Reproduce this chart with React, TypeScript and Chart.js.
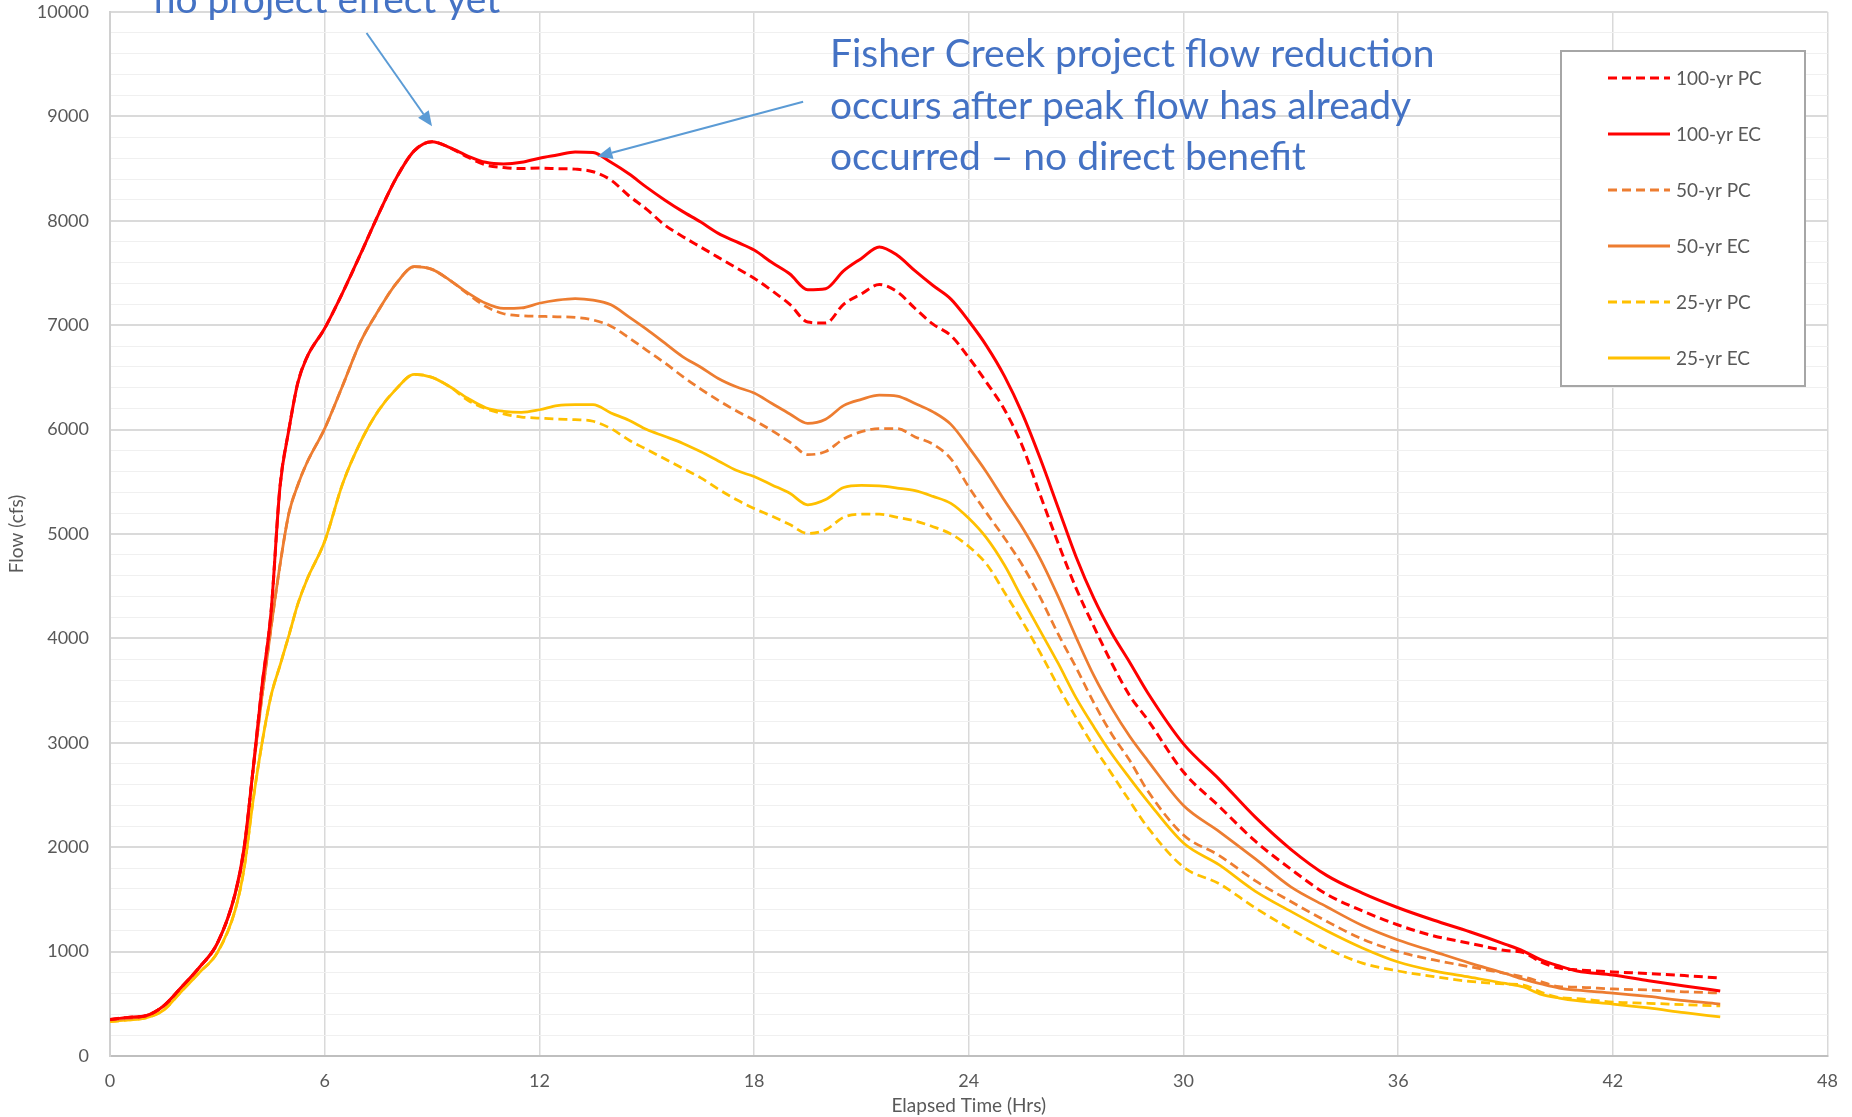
import React, { useEffect, useRef } from "react";
import { Chart, registerables } from "chart.js";

Chart.register(...registerables);

// ---------- data ----------
const TIME_HRS = [
  0, 0.5, 1, 1.5, 2, 2.5, 3, 3.5, 3.75, 4, 4.25, 4.5, 4.75, 5, 5.25, 5.5,
  6, 6.5, 7, 7.5, 8, 8.5, 9, 9.5, 10, 10.5,
  11, 11.5, 12, 12.5, 13, 13.5, 14, 14.5, 15, 15.5,
  16, 16.5, 17, 17.5, 18, 18.5, 19, 19.5, 20, 20.5,
  21, 21.5, 22, 22.5, 23, 23.5, 24, 24.5, 25, 25.5,
  26, 26.5, 27, 27.5, 28, 28.5, 29,
  30, 31, 32, 33, 34, 35, 36, 37, 38, 39,
  39.5, 40, 40.5, 41, 42, 43, 44, 45,
];

const FLOW_100_PC = [
  350, 370, 385, 480, 660, 850, 1080, 1560, 2000, 2750, 3550, 4250, 5450, 6000, 6450, 6690,
  6970, 7310, 7680, 8060, 8410, 8670, 8758, 8700, 8610, 8535,
  8510, 8500, 8505, 8500, 8495, 8470, 8390, 8240, 8110, 7960,
  7850, 7750, 7650, 7550, 7450, 7330, 7200, 7030, 7020, 7200,
  7300, 7390, 7320, 7160, 7010, 6900, 6690, 6450, 6190, 5840,
  5370, 4910, 4480, 4110, 3760, 3450, 3220,
  2720, 2390, 2060, 1790, 1550, 1390, 1255, 1150, 1080, 1010,
  990, 900, 843, 825, 805, 790, 770, 747,
];

const FLOW_100_EC = [
  350, 370, 385, 480, 660, 850, 1080, 1560, 2000, 2750, 3550, 4250, 5450, 6000, 6450, 6690,
  6970, 7310, 7680, 8060, 8410, 8670, 8758, 8700, 8620, 8560,
  8545, 8560, 8600, 8630, 8660, 8655, 8560, 8450, 8320, 8200,
  8090, 7990, 7880, 7800, 7720, 7600, 7490, 7340, 7350, 7520,
  7640, 7750, 7670, 7520, 7380, 7250, 7040, 6800, 6510, 6150,
  5720, 5250, 4780, 4380, 4050, 3770, 3480,
  2990, 2650, 2290, 1980, 1730, 1560, 1420, 1300, 1190, 1070,
  1005, 920, 862, 815, 776, 720, 670, 623,
];

const FLOW_50_PC = [
  345, 360, 385, 480, 660, 850, 1080, 1550, 1980, 2740, 3450, 4100, 4700, 5200, 5470, 5680,
  6010, 6420, 6840, 7140, 7400, 7560, 7535, 7430, 7300, 7180,
  7110, 7090, 7085, 7080, 7075, 7050, 6990, 6880, 6760, 6640,
  6510, 6390, 6280, 6180, 6090, 5990, 5880, 5760, 5790, 5910,
  5980, 6010, 6010, 5930, 5860, 5720, 5450, 5200, 4960, 4700,
  4390, 4040, 3720, 3380, 3080, 2830, 2540,
  2117, 1920, 1680, 1480, 1290, 1120, 1000, 920, 855, 790,
  757, 710, 665, 660, 642, 632, 615, 603,
];

const FLOW_50_EC = [
  345, 360, 385, 480, 660, 850, 1080, 1550, 1980, 2740, 3450, 4100, 4700, 5200, 5470, 5680,
  6010, 6420, 6840, 7140, 7400, 7560, 7535, 7430, 7310, 7210,
  7160, 7165, 7210, 7240, 7255, 7240, 7195, 7080, 6960, 6830,
  6700, 6600, 6490, 6410, 6350, 6250, 6150, 6060, 6100, 6230,
  6290, 6330, 6320, 6250, 6170, 6050, 5830, 5590, 5320, 5060,
  4760, 4400, 4010, 3640, 3330, 3060, 2830,
  2400, 2150, 1890, 1620, 1430, 1250, 1111, 1000, 890, 790,
  735, 690, 651, 630, 603, 570, 530, 498,
];

const FLOW_25_PC = [
  330, 345, 365, 440, 620, 800, 990, 1400, 1800, 2450, 3000, 3450, 3740, 4030, 4330, 4560,
  4930, 5480, 5880, 6180, 6390, 6530, 6500, 6410, 6280, 6200,
  6150, 6120, 6110, 6100, 6095, 6080, 6010, 5900, 5810, 5720,
  5630, 5540, 5430, 5330, 5244, 5170, 5090, 5005, 5040, 5160,
  5190, 5190, 5160, 5125, 5070, 5000, 4880, 4710, 4440, 4160,
  3860, 3540, 3240, 2960, 2700, 2440, 2190,
  1810, 1650, 1420, 1215, 1030, 890, 814, 760, 715, 690,
  680, 610, 560, 550, 517, 505, 492, 479,
];

const FLOW_25_EC = [
  330, 345, 365, 440, 620, 800, 990, 1400, 1800, 2450, 3000, 3450, 3740, 4030, 4330, 4560,
  4930, 5480, 5880, 6180, 6390, 6530, 6500, 6410, 6300, 6210,
  6175, 6165, 6190, 6230, 6240, 6240, 6160, 6090, 6000, 5936,
  5870, 5790, 5700, 5610, 5550, 5470, 5390, 5280, 5330, 5445,
  5465, 5460, 5440, 5415, 5360, 5293, 5150, 4960, 4700, 4380,
  4070, 3760, 3430, 3150, 2890, 2660, 2440,
  2040, 1830, 1580, 1385, 1200, 1035, 900, 815, 755, 695,
  661, 590, 555, 530, 498, 460, 415, 374,
];

const SERIES_LABELS = ["100-yr PC", "100-yr EC", "50-yr PC", "50-yr EC", "25-yr PC", "25-yr EC"];
const SERIES_VALUES = [FLOW_100_PC, FLOW_100_EC, FLOW_50_PC, FLOW_50_EC, FLOW_25_PC, FLOW_25_EC];
const SERIES_COLORS = ["#FF0000", "#FF0000", "#ED7D31", "#ED7D31", "#FFC000", "#FFC000"];
const SERIES_DASHED = [true, false, true, false, true, false];

const X_MIN = 0;
const X_MAX = 48;
const X_STEP = 6;
const Y_MIN = 0;
const Y_MAX = 10000;
const Y_MINOR_STEP = 200;
const Y_MAJOR_STEP = 1000;

const X_TITLE = "Elapsed Time (Hrs)";
const Y_TITLE = "Flow (cfs)";

const NOTE_1_TEXT = ["no project effect yet"];
const NOTE_1_AT = [1.22, 9990];
const NOTE_1_ARROW = [7.17, 9799, 9.0, 8905];

const NOTE_2_TEXT = [
  "Fisher Creek project flow reduction",
  "occurs after peak flow has already",
  "occurred \u2013 no direct benefit",
];
const NOTE_2_AT = [20.12, 9473];
const NOTE_2_ARROW = [19.37, 9140, 13.62, 8615];

// ---------- styles ----------
const FONT = "Lato";
const TEXT_GREY = "#595959";
const NOTE_COLOR = "#4472C4";
const ARROW_COLOR = "#5B9BD5";
const NOTE_FONT_SIZE = 39;
const NOTE_LINE_HEIGHT = 51.5;

const LEGEND_BOX = { x: 1561, y: 51, w: 244, h: 335, first: 27, step: 56, lineX0: 47, lineX1: 109, textX: 115 };

function drawArrow(ctx: CanvasRenderingContext2D, x0: number, y0: number, x1: number, y1: number) {
  const ang = Math.atan2(y1 - y0, x1 - x0);
  const len = 15;
  const half = 6.5;
  const bx = x1 - len * Math.cos(ang);
  const by = y1 - len * Math.sin(ang);
  ctx.strokeStyle = ARROW_COLOR;
  ctx.fillStyle = ARROW_COLOR;
  ctx.lineWidth = 2;
  ctx.beginPath();
  ctx.moveTo(x0, y0);
  ctx.lineTo(bx, by);
  ctx.stroke();
  ctx.beginPath();
  ctx.moveTo(x1, y1);
  ctx.lineTo(bx + half * Math.sin(ang), by - half * Math.cos(ang));
  ctx.lineTo(bx - half * Math.sin(ang), by + half * Math.cos(ang));
  ctx.closePath();
  ctx.fill();
}

const notesPlugin = {
  id: "notes",
  afterDraw(chart: any) {
    const { ctx } = chart;
    const x = chart.scales.x;
    const y = chart.scales.y;
    ctx.save();
    ctx.fillStyle = NOTE_COLOR;
    ctx.font = `${NOTE_FONT_SIZE}px ${FONT}`;
    ctx.textBaseline = "alphabetic";
    ctx.textAlign = "left";
    NOTE_1_TEXT.forEach((line, i) => {
      ctx.fillText(line, x.getPixelForValue(NOTE_1_AT[0]), y.getPixelForValue(NOTE_1_AT[1]) + i * NOTE_LINE_HEIGHT);
    });
    NOTE_2_TEXT.forEach((line, i) => {
      ctx.fillText(line, x.getPixelForValue(NOTE_2_AT[0]), y.getPixelForValue(NOTE_2_AT[1]) + i * NOTE_LINE_HEIGHT);
    });
    drawArrow(
      ctx,
      x.getPixelForValue(NOTE_1_ARROW[0]), y.getPixelForValue(NOTE_1_ARROW[1]),
      x.getPixelForValue(NOTE_1_ARROW[2]), y.getPixelForValue(NOTE_1_ARROW[3])
    );
    drawArrow(
      ctx,
      x.getPixelForValue(NOTE_2_ARROW[0]), y.getPixelForValue(NOTE_2_ARROW[1]),
      x.getPixelForValue(NOTE_2_ARROW[2]), y.getPixelForValue(NOTE_2_ARROW[3])
    );
    ctx.restore();
  },
};

const boxLegendPlugin = {
  id: "boxLegend",
  afterDraw(chart: any) {
    const { ctx } = chart;
    const L = LEGEND_BOX;
    ctx.save();
    ctx.fillStyle = "#ffffff";
    ctx.fillRect(L.x, L.y, L.w, L.h);
    ctx.strokeStyle = "#a6a6a6";
    ctx.lineWidth = 2;
    ctx.strokeRect(L.x, L.y, L.w, L.h);
    chart.data.datasets.forEach((d: any, i: number) => {
      const yy = L.y + L.first + i * L.step;
      ctx.strokeStyle = d.borderColor;
      ctx.lineWidth = 3;
      ctx.setLineDash(d.borderDash || []);
      ctx.beginPath();
      ctx.moveTo(L.x + L.lineX0, yy);
      ctx.lineTo(L.x + L.lineX1, yy);
      ctx.stroke();
      ctx.setLineDash([]);
      ctx.fillStyle = TEXT_GREY;
      ctx.font = `19px ${FONT}`;
      ctx.textBaseline = "middle";
      ctx.textAlign = "left";
      ctx.fillText(d.label, L.x + L.textX, yy + 1);
    });
    ctx.restore();
  },
};

export default function App() {
  const canvasRef = useRef<HTMLCanvasElement | null>(null);

  useEffect(() => {
    if (!canvasRef.current) return;
    const datasets = SERIES_LABELS.map((label, s) => ({
      label,
      data: TIME_HRS.map((t, i) => ({ x: t, y: SERIES_VALUES[s][i] })),
      borderColor: SERIES_COLORS[s],
      backgroundColor: SERIES_COLORS[s],
      borderWidth: s < 2 ? 3 : 2.75,
      borderDash: SERIES_DASHED[s] ? [9, 5] : [],
      pointRadius: 0,
      fill: false,
      cubicInterpolationMode: "monotone" as const,
    }));

    const chart = new Chart(canvasRef.current, {
      type: "line",
      data: { datasets },
      plugins: [notesPlugin, boxLegendPlugin],
      options: {
        animation: false,
        responsive: false,
        devicePixelRatio: 1,
        layout: { padding: { top: 12, right: 15, left: 0, bottom: 0 } },
        plugins: {
          legend: { display: false },
          tooltip: { enabled: false },
        },
        scales: {
          x: {
            type: "linear",
            min: X_MIN,
            max: X_MAX,
            ticks: {
              stepSize: X_STEP,
              color: TEXT_GREY,
              font: { family: FONT, size: 18 },
              padding: 14,
              maxRotation: 0,
              autoSkip: false,
            },
            grid: { color: "#d9d9d9", lineWidth: 1.5, drawTicks: false },
            border: { color: "#bfbfbf", width: 2 },
            title: {
              display: true,
              text: X_TITLE,
              color: TEXT_GREY,
              font: { family: FONT, size: 19 },
              padding: 0,
            },
            afterFit: (s: any) => {
              s.height = 61;
            },
          },
          y: {
            type: "linear",
            min: Y_MIN,
            max: Y_MAX,
            ticks: {
              stepSize: Y_MINOR_STEP,
              autoSkip: false,
              color: TEXT_GREY,
              font: { family: FONT, size: 18 },
              padding: 21,
              callback: (v: any) => (Number(v) % Y_MAJOR_STEP === 0 ? String(v) : ""),
            },
            grid: {
              color: (c: any) => (c.tick && c.tick.value % Y_MAJOR_STEP === 0 ? "#dadada" : "#f0f0f0"),
              lineWidth: (c: any) => (c.tick && c.tick.value % Y_MAJOR_STEP === 0 ? 2 : 1),
              drawTicks: false,
            },
            border: { color: "#d0d0d0", width: 2 },
            title: {
              display: true,
              text: Y_TITLE,
              color: TEXT_GREY,
              font: { family: FONT, size: 19 },
              padding: { top: 5, bottom: 0 },
            },
            afterFit: (s: any) => {
              s.width = 110;
              s.paddingTop = 0;
              s.paddingBottom = 0;
            },
          },
        },
      } as any,
    });
    return () => chart.destroy();
  }, []);

  return (
    <div style={{ position: "fixed", left: 0, top: 0, width: 1852, height: 1117, background: "#ffffff" }}>
      <canvas ref={canvasRef} width={1852} height={1117} style={{ display: "block" }} />
    </div>
  );
}
